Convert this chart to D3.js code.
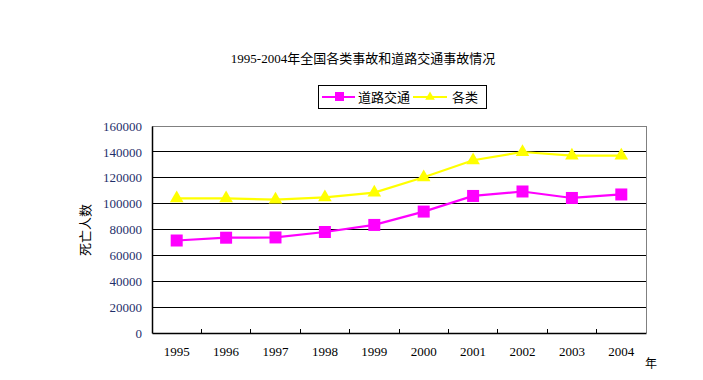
<!DOCTYPE html>
<html><head><meta charset="utf-8">
<script src="https://cdn.jsdelivr.net/npm/d3@7"></script>
<style>body{margin:0;background:#fff}svg{display:block}</style>
</head><body>
<svg id="c" width="703" height="380"></svg>
<script>
const years = ["1995","1996","1997","1998","1999","2000","2001","2002","2003","2004"];
const roadValues = [71494,73655,73861,78067,83529,93853,105930,109381,104372,107077];
const allValues = [104100,104100,103100,104900,108500,120400,133500,139900,137100,137100];
const yTicks = [0,20000,40000,60000,80000,100000,120000,140000,160000];
const seriesNames = ["道路交通","各类"];
const titleText = "1995-2004年全国各类事故和道路交通事故情况";
const yTitle = "死亡人数";
const xUnit = "年";

const svg = d3.select("#c");
const L = 152, R = 646, T = 126, B = 333;
const x = d3.scaleBand().domain(years).range([L, R]);
const y = d3.scaleLinear().domain([0,160000]).range([B, T]);
const serif = "'Liberation Serif','Times New Roman',serif";
const cjk = "'Noto Sans CJK SC',sans-serif";
const mixed = "'Liberation Serif','Noto Sans CJK SC',serif";

// gridlines
svg.append("g").selectAll("line").data(yTicks.filter(d=>d>0)).join("line")
  .attr("x1", L).attr("x2", R).attr("y1", d=>y(d)).attr("y2", d=>y(d))
  .attr("stroke", d=>d===160000?"#808080":"#000").attr("stroke-width", 1).attr("shape-rendering","crispEdges");
// right border
svg.append("line").attr("x1",R).attr("x2",R).attr("y1",T).attr("y2",B).attr("stroke","#808080").attr("shape-rendering","crispEdges");

// y axis
const yAxis = d3.axisLeft(y).tickValues(yTicks).tickSize(0).tickPadding(10).tickFormat(d3.format("d"));
const gy = svg.append("g").attr("transform",`translate(${L},0)`).call(yAxis);
gy.select(".domain").attr("stroke","#000").attr("stroke-width",1.5);
gy.selectAll("text").attr("font-family",serif).attr("font-size",13).attr("fill","#1f2f6a");

// x axis
const xAxis = d3.axisBottom(x).tickSize(0).tickPadding(14);
const gx = svg.append("g").attr("transform",`translate(0,${B})`).call(xAxis);
gx.select(".domain").attr("stroke","#000").attr("stroke-width",1.5);
gx.selectAll("text").attr("font-family",serif).attr("font-size",13).attr("fill","#000");
// inward ticks at band boundaries
svg.append("g").selectAll("line").data(years.slice(1)).join("line")
  .attr("x1", d=>x(d)).attr("x2", d=>x(d)).attr("y1", B).attr("y2", B-4)
  .attr("stroke","#000").attr("shape-rendering","crispEdges");

svg.append("text").attr("x",651).attr("y",368).attr("text-anchor","middle")
  .attr("font-family",cjk).attr("font-size",12).text(xUnit);

svg.append("text").attr("transform","translate(90,230) rotate(-90)").attr("text-anchor","middle")
  .attr("font-family",cjk).attr("font-size",13).text(yTitle);

svg.append("text").attr("x",363).attr("y",63).attr("text-anchor","middle")
  .attr("font-family",mixed).attr("font-size",13).attr("fill","#000").text(titleText);

const cx = d => x(d) + x.bandwidth()/2;
const line = d3.line().x((d,i)=>cx(years[i])).y(d=>y(d));
const tri = d3.symbol().type(d3.symbolTriangle).size(80);

// yellow series
svg.append("path").datum(allValues).attr("d",line).attr("fill","none").attr("stroke","#ffff00").attr("stroke-width",2.2);
svg.append("g").selectAll("path").data(allValues).join("path")
  .attr("d",tri).attr("transform",(d,i)=>`translate(${cx(years[i])},${y(d)})`).attr("fill","#ffff00");
// magenta series
svg.append("path").datum(roadValues).attr("d",line).attr("fill","none").attr("stroke","#ff00ff").attr("stroke-width",2.2);
svg.append("g").selectAll("rect").data(roadValues).join("rect")
  .attr("x",(d,i)=>cx(years[i])-6).attr("y",d=>y(d)-6).attr("width",12).attr("height",12).attr("fill","#ff00ff");

// legend
const lg = svg.append("g");
lg.append("rect").attr("x",318.5).attr("y",85.5).attr("width",168).attr("height",23).attr("fill","#fff").attr("stroke","#000").attr("stroke-width",1);
lg.append("line").attr("x1",322).attr("x2",355).attr("y1",97).attr("y2",97).attr("stroke","#ff00ff").attr("stroke-width",2);
lg.append("rect").attr("x",335).attr("y",92).attr("width",9).attr("height",9).attr("fill","#ff00ff");
lg.append("text").attr("x",358).attr("y",102).attr("font-family",cjk).attr("font-size",13).text(seriesNames[0]);
lg.append("line").attr("x1",413).attr("x2",447).attr("y1",97).attr("y2",97).attr("stroke","#ffff00").attr("stroke-width",2);
lg.append("path").attr("d",d3.symbol().type(d3.symbolTriangle).size(40)).attr("transform","translate(430,97)").attr("fill","#ffff00");
lg.append("text").attr("x",452).attr("y",102).attr("font-family",cjk).attr("font-size",13).text(seriesNames[1]);
</script>
</body></html>
